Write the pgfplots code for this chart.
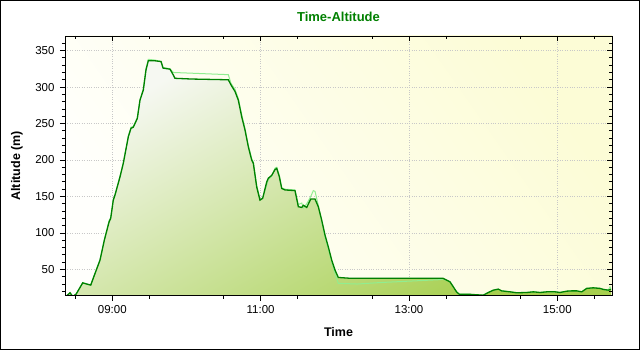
\documentclass[border=0pt]{standalone}
\usepackage{pgfplots}
\pgfplotsset{compat=1.18}
\usepackage{fontspec}
\setmainfont{Liberation Sans}
\definecolor{dkgreen}{HTML}{008000}
\definecolor{ltgreen}{HTML}{90EE90}
\definecolor{fillgreen}{HTML}{A6CF4E}
\definecolor{fillwhite}{HTML}{F6F8F2}
\definecolor{bgyellow}{HTML}{FCFCD6}
\definecolor{bgwhite}{HTML}{FFFFFC}
\definecolor{gridgray}{HTML}{C8C8C8}
\pgfplotstableread{
x y
8.376 13
8.430 18
8.466 13
8.511 16
8.601 31.6
8.655 30
8.709 28.5
8.767 44.5
8.834 62.8
8.892 90
8.956 115
8.978 120
9.013 145
9.036 152
9.104 177
9.148 195.5
9.216 232
9.252 243.5
9.283 245
9.337 257
9.373 282
9.418 296
9.454 323.5
9.485 336
9.576 336
9.657 335
9.684 326
9.778 324.5
9.822 316.6
9.845 312
10.071 311
10.564 310
10.600 303
10.654 294
10.699 282
10.745 259
10.789 241
10.834 218
10.879 200
10.901 195.5
10.947 163
10.991 145
11.027 147.5
11.082 170
11.103 175
11.149 179
11.194 187
11.217 188.5
11.252 177
11.284 161
11.328 159
11.463 158
11.508 136
11.554 135
11.575 138
11.621 135
11.675 146.5
11.733 146.5
11.777 136
11.823 117.7
11.868 97
11.912 81
11.958 62.8
12.003 49
12.047 39
12.191 38
13.455 38
13.553 33
13.598 26
13.643 19
13.678 16
13.822 16
13.845 15.7
14.002 14.7
14.069 18.4
14.137 21.6
14.204 23
14.250 20.6
14.362 19.3
14.452 18
14.587 18.4
14.676 19.3
14.767 18.4
14.857 19.3
14.969 19.3
15.036 18.4
15.127 20.2
15.194 20.6
15.261 20.6
15.329 19.3
15.396 24
15.485 24.8
15.575 24
15.620 22.6
15.687 21.6
15.724 22.6
}\darkdata
\pgfplotstableread{
x y
8.376 13
8.430 18
8.466 13
8.511 16
8.601 32
8.655 30
8.709 29
8.767 45
8.834 63
8.892 90
8.956 117
8.978 121
9.013 146
9.036 152
9.104 178
9.148 196
9.216 233
9.252 245
9.283 246
9.337 258
9.373 283
9.418 297
9.454 325
9.485 338
9.576 337
9.657 335
9.684 327
9.778 325
9.822 320
10.071 319
10.564 317
10.600 305
10.654 297
10.699 284
10.745 262
10.789 243
10.834 220
10.879 202
10.901 197
10.947 165
10.991 146
11.027 148
11.082 166
11.103 173
11.149 178
11.194 189
11.217 190
11.252 179
11.284 162
11.328 160
11.463 159
11.508 139
11.554 141
11.575 134
11.621 140
11.675 150
11.710 158
11.733 157
11.777 138
11.823 115
11.868 94
11.912 78
11.958 60
12.003 44
12.047 31
12.300 30
12.610 32
13.010 34
13.420 36
13.455 37
13.553 33
13.598 26
13.643 19
13.678 16
13.822 16
13.845 15.7
14.002 14.7
14.069 18.4
14.137 21.6
14.204 23
14.250 20.6
14.362 19.3
14.452 18
14.587 18.4
14.676 19.3
14.767 18.4
14.857 19.3
14.969 19.3
15.036 18.4
15.127 20.2
15.194 20.6
15.261 20.6
15.329 19.3
15.396 24
15.485 24.8
15.575 24
15.620 22.6
15.687 21.6
15.710 26
15.724 22.6
}\lightdata
\begin{document}
\begin{tikzpicture}
\useasboundingbox (0bp,0bp) rectangle (640bp,350bp);
\fill[white] (0bp,0bp) rectangle (640bp,350bp);
\pgfplotsset{
  common/.style={
    at={(65bp,54.3bp)}, anchor=south west,
    scale only axis, width=547bp, height=259.7bp,
    xmin=8.362, xmax=15.737, ymin=14, ymax=370,
    xtick={9,11,13,15}, minor xtick={8.5,9.5,10.5,11.5,12.5,13.5,14.5,15.5},
    ytick={50,100,150,200,250,300,350}, minor ytick={20,30,40,60,70,80,90,110,120,130,140,160,170,180,190,210,220,230,240,260,270,280,290,310,320,330,340,360},
    major tick length=5bp, minor tick length=3bp,
    every tick/.style={black, line width=0.8bp},
  }
}
\begin{axis}[common,
  tick align=outside,
  xtick pos=bottom, ytick pos=left,
  xticklabels={09:00,11:00,13:00,15:00},
  /pgf/number format/assume math mode=true,
  ticklabel style={font=\fontsize{11.5bp}{13bp}\selectfont, text=black},
  yticklabel shift=2bp,
  xticklabel shift=1bp,
  axis line style={black, line width=0.8bp},
  axis background/.style={shade, top color=bgyellow, bottom color=bgwhite, shading angle=-55},
  grid=major,
  major grid style={gridgray, dotted, line width=0.8bp},
  title={Time-Altitude},
  every axis title/.style={at={(axis description cs:0.5,1.073)}, anchor=center, font=\bfseries\fontsize{13bp}{15bp}\selectfont, text=dkgreen},
  xlabel={Time}, ylabel={Altitude (m)},
  every axis x label/.style={at={(axis description cs:0.5,-0.14)}, anchor=center, font=\bfseries\fontsize{12.5bp}{15bp}\selectfont},
  every axis y label/.style={at={(axis description cs:-0.0878,0.5)}, anchor=center, rotate=90, font=\bfseries\fontsize{12.5bp}{15bp}\selectfont},
]
\addplot[draw=none, top color=fillwhite, bottom color=fillgreen, shading angle=30] table[x=x,y=y] {\darkdata} \closedcycle;
\addplot[ltgreen, line width=1bp, mark=none] table[x=x,y=y] {\lightdata};
\addplot[dkgreen, line width=1.3bp, mark=none] table[x=x,y=y] {\darkdata};
\end{axis}
\begin{axis}[common,
  tick align=inside,
  xtick pos=top, ytick pos=right,
  xticklabels={}, yticklabels={},
  axis line style={black, line width=0.8bp},
]
\end{axis}
\draw[black, line width=1bp] (0.5bp,0.5bp) rectangle (639.5bp,349.5bp);
\end{tikzpicture}
\end{document}
